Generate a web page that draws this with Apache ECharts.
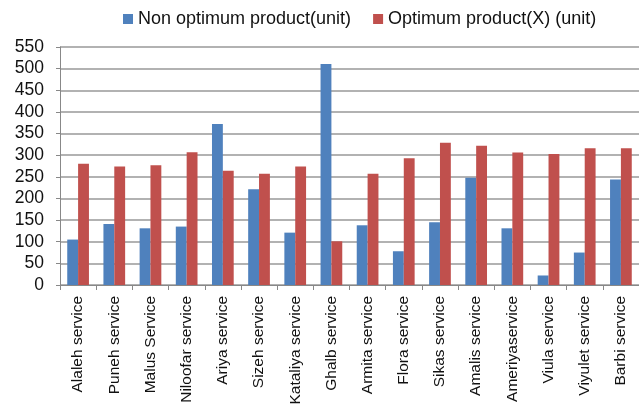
<!DOCTYPE html>
<html><head><meta charset="utf-8">
<script src="https://cdn.jsdelivr.net/npm/echarts@6/dist/echarts.min.js"></script>
<style>html,body{margin:0;padding:0;background:#fff}#c{width:639px;height:414px}</style>
</head><body><div id="c"></div>
<script>
const categories = ["Alaleh service","Puneh service","Malus Service","Niloofar service","Ariya service","Sizeh service","Kataliya service","Ghalb service","Armita service","Flora service","Sikas service","Amalis service","Ameriyaservice","Viula service","Viyulet service","Barbi service"];
const nonOptimum = [105,141,131,135,372,221,121,511,138,78,145,248,131,22,75,244];
const optimum = [280,274,277,307,264,257,274,101,257,293,329,322,306,303,316,316];
const seriesNames = ["Non optimum product(unit)","Optimum product(X) (unit)"];
const yTicks = {min:0,max:550,interval:50};

const chart = echarts.init(document.getElementById('c'));
chart.setOption({
  animation:false,
  textStyle:{fontFamily:'Liberation Sans, Arial, sans-serif'},
  legend:{top:5,left:118,itemWidth:10,itemHeight:10,itemGap:22,icon:'rect',
    textStyle:{fontSize:18,color:'#111',fontFamily:'Liberation Sans, Arial, sans-serif'},
    data:seriesNames},
  grid:{left:60,right:-2,top:47,bottom:129,containLabel:false},
  xAxis:{type:'category',data:categories,
    axisLine:{lineStyle:{color:'#888',width:1}},
    axisTick:{show:true,length:5,lineStyle:{color:'#888'}},
    axisLabel:{rotate:90,fontSize:15.5,color:'#111',margin:11,interval:0}},
  yAxis:{type:'value',min:yTicks.min,max:yTicks.max,interval:yTicks.interval,
    axisLine:{show:true,lineStyle:{color:'#888',width:1}},
    axisTick:{show:true,length:4,lineStyle:{color:'#888'}},
    splitLine:{lineStyle:{color:'#999',width:1.5}},
    axisLabel:{fontSize:17.5,color:'#111',margin:16}},
  series:[
    {name:seriesNames[0],type:'bar',data:nonOptimum,barGap:'0%',barCategoryGap:'40%',
     itemStyle:{color:'#4F81BD'}},
    {name:seriesNames[1],type:'bar',data:optimum,
     itemStyle:{color:'#C0504D'}}
  ]
});
</script></body></html>
